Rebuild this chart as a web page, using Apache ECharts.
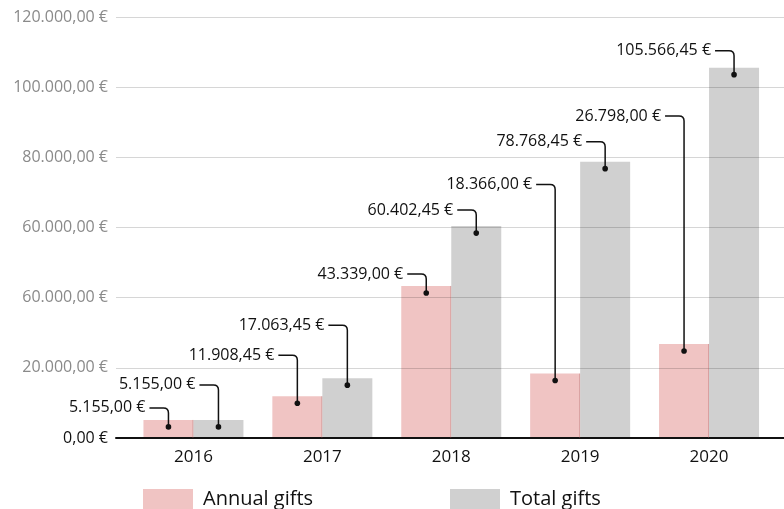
<!DOCTYPE html>
<html>
<head>
<meta charset="utf-8">
<script src="https://cdn.jsdelivr.net/npm/echarts@6/dist/echarts.min.js"></script>
<style>
html,body{margin:0;padding:0;background:#fff;}
#chart{width:784px;height:509px;}
</style>
</head>
<body>
<div id="chart"></div>
<script>
const years = ['2016', '2017', '2018', '2019', '2020'];
const annualGifts = [5155, 11908.45, 43339, 18366, 26798];
const totalGifts = [5155, 17063.45, 60402.45, 78768.45, 105566.45];
const yTickLabels = ['0,00 €', '20.000,00 €', '60.000,00 €', '60.000,00 €', '80.000,00 €', '100.000,00 €', '120.000,00 €'];
const seriesNames = ['Annual gifts', 'Total gifts'];

// layout: label lift above bar top (px)
const liftAnnual = [12, 41, 12, 189, 228];
const liftTotal = [35, 53, 16, 20, 17];

const FONT = '"Open Sans", "Noto Sans", sans-serif';
const BAR_W = 50;

function euro(v) {
  const parts = v.toFixed(2).split('.');
  const intPart = parts[0].replace(/\B(?=(\d{3})+(?!\d))/g, '.');
  return intPart + ',' + parts[1] + ' €';
}

function makeRender(offset, lifts, edge) {
  return function (params, api) {
    const i = params.dataIndex;
    const v = api.value(1);
    const top = api.coord([api.value(0), v]);
    const base = api.coord([api.value(0), 0]);
    const cx = top[0] + offset;
    const dotY = top[1] + 7;
    const ly = top[1] - lifts[i];
    const r = 5;
    const x1 = cx - 19;
    const path = 'M' + x1 + ' ' + ly + ' L' + (cx - r) + ' ' + ly +
      ' Q' + cx + ' ' + ly + ' ' + cx + ' ' + (ly + r) + ' L' + cx + ' ' + dotY;
    const children = [];
    if (edge) {
      const ex = top[0] - 0.5;
      children.push({ type: 'line', shape: { x1: ex, y1: top[1], x2: ex, y2: base[1] },
        style: { stroke: 'rgba(170,90,90,0.35)', lineWidth: 1 } });
    }
    children.push(
      { type: 'path', shape: { pathData: path }, style: { stroke: '#111', lineWidth: 1.5, fill: null } },
      { type: 'circle', shape: { cx: cx, cy: dotY, r: 2.8 }, style: { fill: '#111' } },
      { type: 'text', style: { text: euro(v), x: cx - 23, y: ly, align: 'right', verticalAlign: 'middle',
        font: '16px ' + FONT, fill: '#111' } }
    );
    return { type: 'group', children: children };
  };
}

const chart = echarts.init(document.getElementById('chart'), null, { renderer: 'canvas' });
chart.setOption({
  animation: false,
  textStyle: { fontFamily: FONT },
  grid: [
    { left: 116, right: 0, top: 17, bottom: 71 },
    { left: 129, right: 10.5, top: 17, bottom: 71 }
  ],
  xAxis: [
    { gridIndex: 0, type: 'value', min: 0, max: 1, z: 4, axisLabel: { show: false }, axisTick: { show: false },
      splitLine: { show: false }, axisLine: { show: true, lineStyle: { color: '#111', width: 2 } } },
    { gridIndex: 1, type: 'category', data: years, axisLine: { show: false }, axisTick: { show: false },
      axisLabel: { color: '#111', fontSize: 17, margin: 11, fontFamily: FONT } }
  ],
  yAxis: [
    { gridIndex: 0, type: 'value', min: 0, max: 120000, interval: 20000, z: 3,
      axisLine: { show: false }, axisTick: { show: false },
      splitLine: { lineStyle: { color: 'rgba(0,0,0,0.16)', width: 1 } },
      axisLabel: { fontSize: 16, margin: 8, fontFamily: FONT,
        formatter: function (val) { return yTickLabels[Math.round(Number(val) / 20000)]; },
        color: function (val) { return Number(val) === 0 ? '#111' : '#8a8a8a'; } } },
    { gridIndex: 1, type: 'value', min: 0, max: 120000, interval: 20000, show: false, splitLine: { show: false } }
  ],
  legend: [
    { data: [{ name: seriesNames[0], icon: 'rect' }], left: 143, top: 489, padding: 0, itemWidth: 50, itemHeight: 20,
      selectedMode: false, textStyle: { fontSize: 20, color: '#111', padding: [2, 0, 0, 5], fontFamily: FONT } },
    { data: [{ name: seriesNames[1], icon: 'rect' }], left: 450, top: 489, padding: 0, itemWidth: 50, itemHeight: 20,
      selectedMode: false, textStyle: { fontSize: 20, color: '#111', padding: [2, 0, 0, 5], fontFamily: FONT } }
  ],
  series: [
    { name: seriesNames[0], type: 'bar', xAxisIndex: 1, yAxisIndex: 1, data: annualGifts, barWidth: BAR_W, barGap: '0%',
      itemStyle: { color: '#f0c4c3' } },
    { name: seriesNames[1], type: 'bar', xAxisIndex: 1, yAxisIndex: 1, data: totalGifts, barWidth: BAR_W, barGap: '0%',
      itemStyle: { color: '#d0d0d0' } },
    { type: 'custom', xAxisIndex: 1, yAxisIndex: 1, z: 5, renderItem: makeRender(-BAR_W / 2, liftAnnual, true),
      data: annualGifts.map(function (v, i) { return [i, v]; }) },
    { type: 'custom', xAxisIndex: 1, yAxisIndex: 1, z: 5, renderItem: makeRender(BAR_W / 2, liftTotal, false),
      data: totalGifts.map(function (v, i) { return [i, v]; }) }
  ]
});
</script>
</body>
</html>
